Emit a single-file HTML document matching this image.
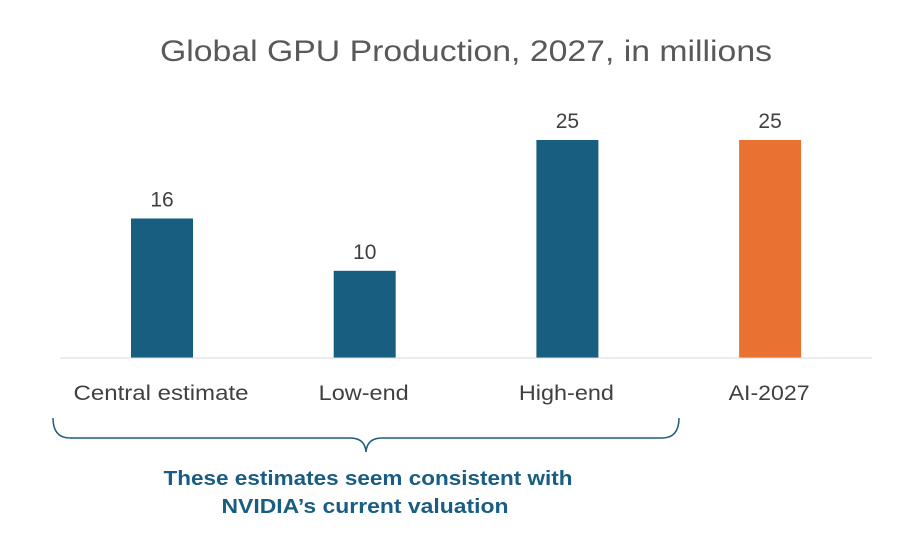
<!DOCTYPE html>
<html><head><meta charset="utf-8"><style>
body{margin:0;background:#fff;width:897px;height:538px;overflow:hidden;font-family:"Liberation Sans",sans-serif}
</style></head><body>
<svg width="897" height="538">
<text x="466" y="61" text-anchor="middle" font-size="30" textLength="612" lengthAdjust="spacingAndGlyphs" fill="#595959">Global GPU Production, 2027, in millions</text>
<g id="bars"></g>
<line x1="60" y1="358" x2="872" y2="358" stroke="#d9d9d9" stroke-width="1"/>
<path d="M53,418 Q53,438 70,438 L350,438 Q365,438 366,452 Q367,438 382,438 L662,438 Q679,438 679,418" fill="none" stroke="#1e5d80" stroke-width="1.5"/>
<text x="368" y="485" text-anchor="middle" font-size="20" font-weight="bold" textLength="409" lengthAdjust="spacingAndGlyphs" fill="#1a5d82">These estimates seem consistent with</text>
<text x="365" y="513" text-anchor="middle" font-size="20" font-weight="bold" textLength="287" lengthAdjust="spacingAndGlyphs" fill="#1a5d82">NVIDIA’s current valuation</text>
</svg>
<script>
const categories=["Central estimate","Low-end","High-end","AI-2027"];
const values=[16,10,25,25];
const colors=["#175e80","#175e80","#175e80","#e97132"];
const labelWidths=[175,90,95,81];
const base=358, scale=218/25, x0=162, step=202.7, bw=62;
const y=v=>base-v*scale;
const g=document.getElementById('bars');
const ns="http://www.w3.org/2000/svg";
categories.forEach((c,i)=>{
 const cx=x0+i*step;
 const r=document.createElementNS(ns,'rect');
 
 
 r.setAttribute('x',cx-bw/2);r.setAttribute('y',y(values[i]));r.setAttribute('width',bw);r.setAttribute('height',base-y(values[i]));r.setAttribute('fill',colors[i]);
 g.appendChild(r);
 const t=document.createElementNS(ns,'text');
 
 
 t.setAttribute('x',cx);t.setAttribute('y',y(values[i])-12);t.setAttribute('text-anchor','middle');t.setAttribute('font-size','21');t.setAttribute('fill','#404040');
 t.textContent=values[i];g.appendChild(t);
 const l=document.createElementNS(ns,'text');
 
 
 l.setAttribute('x',cx-1);l.setAttribute('y',400);l.setAttribute('text-anchor','middle');l.setAttribute('font-size','21');l.setAttribute('fill','#404040');
 l.setAttribute('textLength',labelWidths[i]);l.setAttribute('lengthAdjust','spacingAndGlyphs');
 l.textContent=c;g.appendChild(l);
});
</script>
</body></html>
